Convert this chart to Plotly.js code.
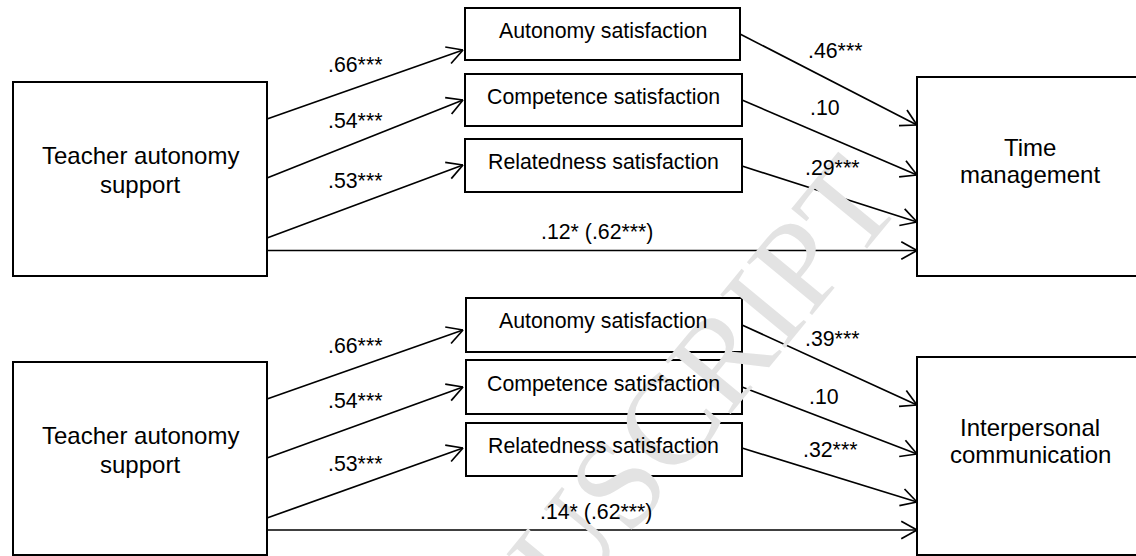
<!DOCTYPE html>
<html><head><meta charset="utf-8">
<script src="https://cdn.plot.ly/plotly-3.0.1.min.js"></script>
<style>html,body{margin:0;padding:0;background:#fff;} #chart{width:1136px;height:556px;}</style>
</head><body><div id="chart"></div>
<script>
// ---------------- data (labels & path coefficients) ----------------
const predictorLines = ["Teacher autonomy", "support"];
const mediatorLabels = ["Autonomy satisfaction", "Competence satisfaction", "Relatedness satisfaction"];
const outcomeTime = ["Time", "management"];
const outcomeComm = ["Interpersonal", "communication"];
const aPathsTime = [".66***", ".54***", ".53***"];
const bPathsTime = [".46***", ".10", ".29***"];
const directTime = ".12* (.62***)";
const aPathsComm = [".66***", ".54***", ".53***"];
const bPathsComm = [".39***", ".10", ".32***"];
const directComm = ".14* (.62***)";
const watermarkText = "ACCEPTED MANUSCRIPT";

// ---------------- geometry (pixel layout of the diagram) ----------------
const geo = [
  { pred:[13,82,267,276], predTextY:[155,184.4],
    meds:[[465,8,740,60],[465,74,742,126],[465,139,742,192]], medTextY:[31,97,162],
    out:[917,77,1150,276], outTextY:[147.5,174.4],
    aStartY:[119,178,238], aEndY:[50,100,165],
    bStartY:[34,100,166], bEndY:[125,175,222], directY:250.5,
    aLabelY:[65,121,181], bLabelX:[835,825,832], bLabelY:[51,108,168], directLabel:[597,232] },
  { pred:[13,362,267,555], predTextY:[435,464.4],
    meds:[[466,298,742,352],[466,360,742,414],[466,423,742,476]], medTextY:[321,384,446],
    out:[917,357,1150,555], outTextY:[427.5,454.4],
    aStartY:[399,458,518], aEndY:[330,387,448],
    bStartY:[325,387,448], bEndY:[405,454,502], directY:530,
    aLabelY:[346,401,464], bLabelX:[832,824,830], bLabelY:[339,397,450], directLabel:[596,512] }
];
const panelText = [
  {a:aPathsTime, b:bPathsTime, d:directTime, out:outcomeTime},
  {a:aPathsComm, b:bPathsComm, d:directComm, out:outcomeComm}
];

const predX = 140, medX = 603, outX = 1030, aLabelX = 355;
const predRight = 267, medLeftTip = 463, outLeft = 917;
const FONT = "Liberation Sans, Arial, sans-serif";
const shapes = [], annotations = [];

// faint diagonal watermark (drawn first)
annotations.push({xref:'paper', yref:'paper', x:388/1136, y:1-762/556, text:watermarkText,
  showarrow:false, textangle:-50.5, font:{family:"Liberation Serif, Times New Roman, serif", size:128, color:'#e3e3e3'},
  xanchor:'center', yanchor:'middle'});

function rect(b, w){ shapes.push({type:'rect', xref:'x', yref:'y', x0:b[0], y0:b[1], x1:b[2], y1:b[3], line:{color:'#000', width:w}, fillcolor:'rgba(0,0,0,0)'}); }
function arrow(x0,y0,x1,y1){
  const ln = {color:'#000', width:1.7};
  shapes.push({type:'line', xref:'x', yref:'y', x0, y0, x1, y1, line:ln});
  const ang = Math.atan2(y0-y1, x0-x1), L = 18, h = 29*Math.PI/180;
  [ang-h, ang+h].forEach(a => shapes.push({type:'line', xref:'x', yref:'y', x0:x1, y0:y1, x1:x1+L*Math.cos(a), y1:y1+L*Math.sin(a), line:ln}));
}
function label(x,y,text,size){ annotations.push({xref:'x', yref:'y', x, y, text, showarrow:false, xanchor:'center', yanchor:'middle', font:{family:FONT, size, color:'#000'}}); }

geo.forEach((g,p) => {
  const t = panelText[p];
  rect(g.pred, 2); rect(g.out, 2);
  g.meds.forEach(m => rect(m, 2));
  predictorLines.forEach((s,i) => label(predX, g.predTextY[i], s, 24));
  t.out.forEach((s,i) => label(outX, g.outTextY[i], s, 24));
  mediatorLabels.forEach((s,i) => label(medX, g.medTextY[i], s, 21.3));
  for (let i=0;i<3;i++){
    arrow(predRight, g.aStartY[i], medLeftTip, g.aEndY[i]);
    arrow(g.meds[i][2], g.bStartY[i], outLeft, g.bEndY[i]);
    label(aLabelX, g.aLabelY[i], t.a[i], 21.3);
    label(g.bLabelX[i], g.bLabelY[i], t.b[i], 21.3);
  }
  arrow(predRight, g.directY, outLeft, g.directY);
  label(g.directLabel[0], g.directLabel[1], t.d, 21.3);
});

const layout = {
  width:1136, height:556, margin:{l:0,r:0,t:0,b:0}, paper_bgcolor:'#fff', plot_bgcolor:'#fff',
  xaxis:{range:[0,1136], visible:false, fixedrange:true},
  yaxis:{range:[556,0], visible:false, fixedrange:true},
  showlegend:false, shapes, annotations
};
Plotly.newPlot('chart', [{type:'scatter', x:[], y:[], hoverinfo:'skip'}], layout, {staticPlot:true, displayModeBar:false});
</script></body></html>
